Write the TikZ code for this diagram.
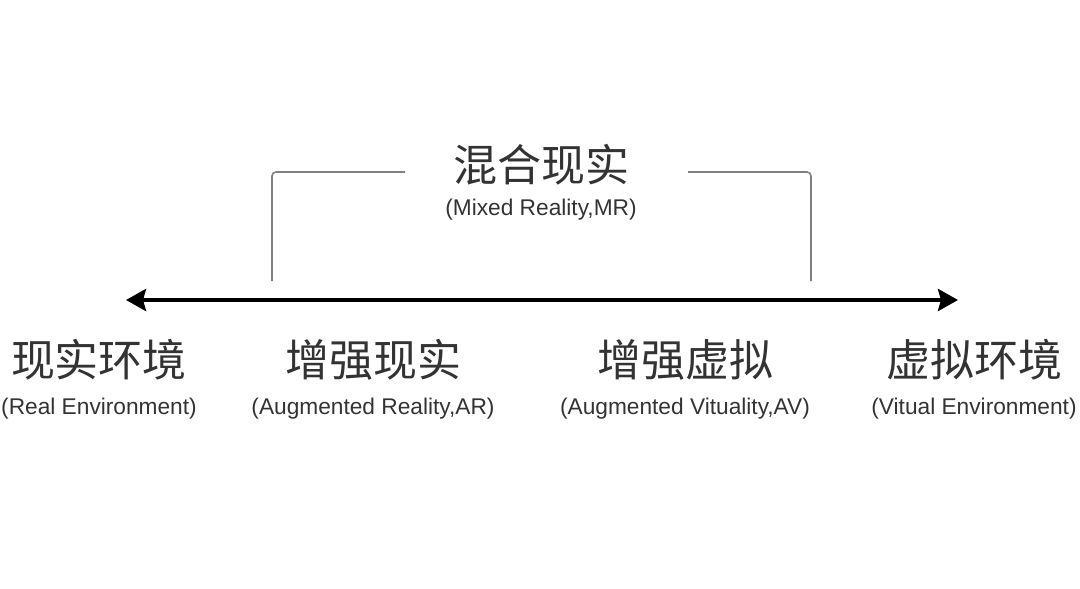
\documentclass[tikz,border=0pt]{standalone}
\usepackage{fontspec}
\setmainfont{Noto Sans CJK SC}
\newfontfamily\latinfont{Liberation Sans}
\usetikzlibrary{positioning,calc,arrows.meta}

\definecolor{inkgray}{HTML}{333333}
\definecolor{bracketgray}{HTML}{808080}

\tikzset{
    zhlabel/.style={font=\fontsize{44}{46}\selectfont, text=inkgray, inner sep=0pt},
    enlabel/.style={font=\latinfont\fontsize{22.7}{25}\selectfont, text=inkgray, inner sep=0pt},
    axis line/.style={line width=4pt, {Stealth[length=20pt,width=22pt,inset=3pt]}-{Stealth[length=20pt,width=22pt,inset=3pt]}},
    bracket line/.style={line width=1.6pt, draw=bracketgray, rounded corners=4pt}
}

\begin{document}
\begin{tikzpicture}[x=1pt,y=-1pt]
    \useasboundingbox (0,0) rectangle (1080,589);

    % axis
    \coordinate (L) at (126,300);
    \coordinate (R) at (958,300);
    \draw[axis line] (L) -- (R);

    % mixed reality bracket
    \node[zhlabel] (MR) at (541,165) {混合现实};
    \node[enlabel, below=13pt of MR] (MRen) {(Mixed Reality,MR)};
    \coordinate (BL) at (272,281);
    \coordinate (BR) at (811,281);
    \draw[bracket line] (BL) |- (405,172);
    \draw[bracket line] (BR) |- (688,172);

    % points along the axis
    \node[zhlabel] (RE) at (99,360) {现实环境};
    \node[enlabel, below=17.5pt of RE] (REen) {(Real Environment)};
    \node[zhlabel] (AR) at (373,360) {增强现实};
    \node[enlabel, below=17.5pt of AR] (ARen) {(Augmented Reality,AR)};
    \node[zhlabel] (AV) at (685,360) {增强虚拟};
    \node[enlabel, below=17.5pt of AV] (AVen) {(Augmented Vituality,AV)};
    \node[zhlabel] (VE) at (974,360) {虚拟环境};
    \node[enlabel, below=17.5pt of VE] (VEen) {(Vitual Environment)};
\end{tikzpicture}
\end{document}
